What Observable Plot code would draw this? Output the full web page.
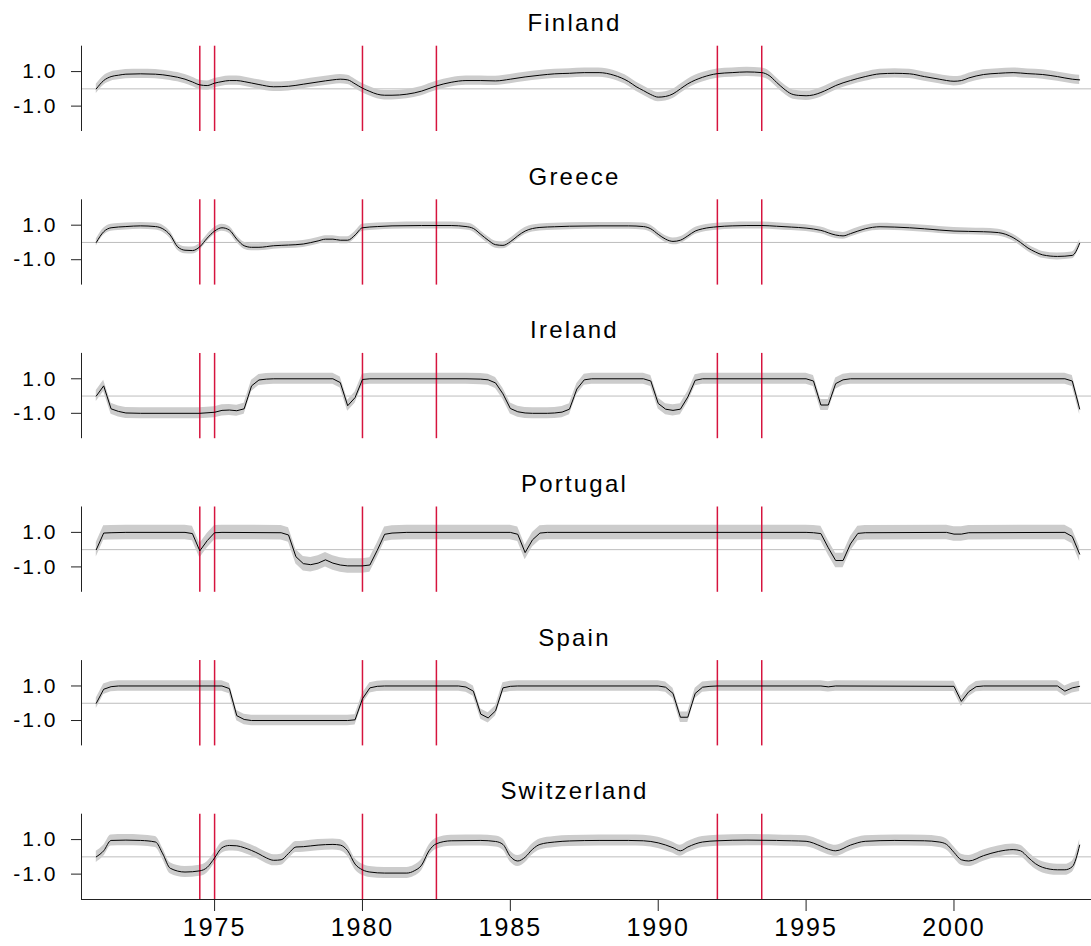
<!DOCTYPE html>
<html>
<head>
<meta charset="utf-8">
<script src="https://cdn.jsdelivr.net/npm/d3@7"></script>
<script src="https://cdn.jsdelivr.net/npm/@observablehq/plot@0.6"></script>
<style>
  html, body { margin: 0; padding: 0; background: #fff; }
  #chart svg { display: block; }
  #chart g[aria-label="text"] text { letter-spacing: 2.2px; }
  #chart g[aria-label="y-axis tick label"] { font-size: 21px; letter-spacing: 2px; }
  #chart g[aria-label="x-axis tick label"] { font-size: 25px; letter-spacing: 2px; }
</style>
</head>
<body>
<div id="chart"></div>
<script>
// ---- data ----
const countries = ["Finland", "Greece", "Ireland", "Portugal", "Spain", "Switzerland"];
const smoothCountries = ["Finland", "Greece", "Switzerland"];

const finland = [[1971,0],[1971.25,0.48],[1971.5,0.71],[1971.75,0.79],[1972,0.85],[1972.5,0.87],[1973,0.85],[1973.5,0.75],[1974,0.56],[1974.25,0.40],[1974.5,0.23],[1974.75,0.19],[1975,0.33],[1975.25,0.42],[1975.5,0.48],[1975.75,0.48],[1976,0.42],[1976.5,0.25],[1977,0.12],[1977.5,0.15],[1978,0.27],[1978.5,0.40],[1979,0.52],[1979.25,0.56],[1979.5,0.52],[1979.75,0.29],[1980,0.04],[1980.25,-0.15],[1980.5,-0.31],[1980.75,-0.37],[1981,-0.37],[1981.5,-0.31],[1982,-0.13],[1982.5,0.17],[1983,0.38],[1983.5,0.48],[1984,0.48],[1984.5,0.46],[1985,0.56],[1985.5,0.69],[1986,0.79],[1986.5,0.87],[1987,0.90],[1987.5,0.94],[1988,0.94],[1988.5,0.79],[1989,0.42],[1989.25,0.13],[1989.5,-0.10],[1989.75,-0.33],[1990,-0.48],[1990.25,-0.44],[1990.5,-0.29],[1990.75,0],[1991,0.29],[1991.5,0.67],[1992,0.88],[1992.5,0.94],[1993,0.98],[1993.5,0.94],[1993.75,0.77],[1994,0.38],[1994.25,0],[1994.5,-0.29],[1994.75,-0.38],[1995,-0.40],[1995.25,-0.35],[1995.5,-0.21],[1995.75,-0.02],[1996,0.19],[1996.5,0.48],[1997,0.71],[1997.5,0.87],[1998,0.90],[1998.5,0.87],[1999,0.71],[1999.5,0.56],[2000,0.44],[2000.25,0.48],[2000.5,0.63],[2001,0.83],[2001.5,0.90],[2002,0.94],[2002.5,0.88],[2003,0.83],[2003.5,0.71],[2004,0.56],[2004.25,0.52]];

const greece = [[1971,0],[1971.25,0.62],[1971.5,0.85],[1972,0.92],[1972.5,0.96],[1973,0.92],[1973.25,0.79],[1973.5,0.43],[1973.75,-0.25],[1974,-0.45],[1974.25,-0.47],[1974.5,-0.25],[1974.75,0.25],[1975,0.66],[1975.25,0.85],[1975.5,0.72],[1975.75,0.19],[1976,-0.19],[1976.25,-0.28],[1976.5,-0.28],[1977,-0.19],[1977.5,-0.15],[1978,-0.09],[1978.5,0.09],[1978.75,0.19],[1979,0.19],[1979.25,0.13],[1979.5,0.13],[1979.75,0.43],[1980,0.85],[1980.5,0.92],[1981,0.96],[1982,0.98],[1983,0.98],[1983.5,0.92],[1983.75,0.81],[1984,0.47],[1984.25,0.13],[1984.5,-0.13],[1984.75,-0.17],[1985,0.04],[1985.25,0.38],[1985.5,0.66],[1986,0.87],[1986.5,0.91],[1987,0.94],[1988,0.96],[1989,0.96],[1989.5,0.92],[1989.75,0.79],[1990,0.47],[1990.25,0.19],[1990.5,0.06],[1990.75,0.13],[1991,0.38],[1991.25,0.66],[1991.5,0.79],[1992,0.91],[1992.5,0.96],[1993,0.98],[1993.5,0.98],[1994,0.94],[1994.5,0.89],[1995,0.83],[1995.5,0.70],[1996,0.43],[1996.25,0.38],[1996.5,0.51],[1997,0.79],[1997.5,0.91],[1998,0.89],[1998.5,0.85],[1999,0.79],[1999.5,0.72],[2000,0.66],[2000.5,0.64],[2001,0.62],[2001.5,0.57],[2002,0.28],[2002.25,0],[2002.5,-0.32],[2002.75,-0.55],[2003,-0.72],[2003.5,-0.81],[2004,-0.75],[2004.25,-0.05]];

const ireland = [[1971,0],[1971.25,0.59],[1971.5,-0.74],[1971.75,-0.89],[1972,-0.98],[1972.5,-1.0],[1974.5,-1.0],[1975,-0.94],[1975.25,-0.83],[1975.5,-0.81],[1975.75,-0.85],[1976,-0.74],[1976.25,0.59],[1976.5,0.93],[1976.75,0.98],[1977,1.0],[1979,1.0],[1979.25,0.78],[1979.5,-0.56],[1979.75,-0.09],[1980,0.96],[1980.25,1.0],[1983.5,1.0],[1984,0.98],[1984.25,0.94],[1984.5,0.76],[1984.75,0.13],[1985,-0.72],[1985.25,-0.91],[1985.5,-0.98],[1985.75,-1.0],[1986.25,-1.0],[1986.5,-0.98],[1986.75,-0.93],[1987,-0.76],[1987.25,0.41],[1987.5,0.94],[1987.75,1.0],[1989.5,1.0],[1989.75,0.87],[1990,-0.43],[1990.25,-0.76],[1990.5,-0.83],[1990.75,-0.76],[1991,-0.06],[1991.25,0.91],[1991.5,1.0],[1995,1.0],[1995.25,0.87],[1995.5,-0.52],[1995.75,-0.52],[1996,0.72],[1996.25,0.94],[1996.5,1.0],[2003.75,1.0],[2004,0.87],[2004.25,-0.75]];

const portugal = [[1971,0],[1971.25,0.96],[1971.5,0.98],[1972,1.0],[1974,1.0],[1974.25,0.93],[1974.5,-0.07],[1974.75,0.52],[1975,0.98],[1975.25,1.0],[1977.25,0.98],[1977.5,0.85],[1977.75,-0.41],[1978,-0.81],[1978.25,-0.87],[1978.5,-0.78],[1978.75,-0.59],[1979,-0.78],[1979.25,-0.89],[1979.5,-0.94],[1980,-0.94],[1980.25,-0.89],[1980.5,-0.04],[1980.75,0.89],[1981,0.96],[1981.5,1.0],[1985,1.0],[1985.25,0.89],[1985.5,-0.17],[1985.75,0.57],[1986,0.96],[1986.25,1.0],[1995,1.0],[1995.25,0.98],[1995.5,0.93],[1995.75,0.11],[1996,-0.63],[1996.25,-0.63],[1996.5,0.33],[1996.75,0.94],[1997,0.98],[1999.75,1.0],[2000,0.90],[2000.25,0.90],[2000.5,0.98],[2003.75,1.0],[2004,0.76],[2004.25,-0.26]];

const spain = [[1971,0],[1971.25,0.81],[1971.5,0.96],[1971.75,1.0],[1975.25,1.0],[1975.5,0.85],[1975.75,-0.72],[1976,-0.94],[1976.25,-1.0],[1979.5,-1.0],[1979.75,-0.96],[1980,0.26],[1980.25,0.89],[1980.5,0.98],[1980.75,1.0],[1983.25,1.0],[1983.5,0.94],[1983.75,0.70],[1984,-0.63],[1984.25,-0.85],[1984.5,-0.44],[1984.75,0.89],[1985,0.98],[1985.25,1.0],[1990,1.0],[1990.25,0.93],[1990.5,0.57],[1990.75,-0.81],[1991,-0.81],[1991.25,0.57],[1991.5,0.93],[1991.75,0.98],[1992,1.0],[1995.5,1.0],[1995.75,0.95],[1996,1.0],[2000,0.98],[2000.25,0.11],[2000.5,0.67],[2000.75,0.96],[2001,1.0],[2003.5,1.0],[2003.75,0.70],[2004,0.89],[2004.25,0.98]];

const switzerland = [[1971,0],[1971.25,0.35],[1971.5,0.95],[1972,0.97],[1972.5,0.95],[1973,0.86],[1973.25,0.17],[1973.5,-0.66],[1974,-0.88],[1974.5,-0.81],[1974.75,-0.61],[1975,-0.06],[1975.25,0.53],[1975.5,0.66],[1975.75,0.64],[1976,0.53],[1976.5,0.17],[1976.75,-0.06],[1977,-0.20],[1977.25,-0.17],[1977.5,0.20],[1977.75,0.57],[1978,0.59],[1978.5,0.68],[1979,0.72],[1979.25,0.68],[1979.5,0.35],[1979.75,-0.42],[1980,-0.75],[1980.25,-0.88],[1980.75,-0.94],[1981.5,-0.94],[1981.75,-0.81],[1982,-0.48],[1982.25,0.35],[1982.5,0.76],[1983,0.93],[1984,0.95],[1984.5,0.89],[1984.75,0.72],[1985,0.02],[1985.25,-0.24],[1985.5,-0.02],[1985.75,0.44],[1986,0.72],[1986.5,0.86],[1987,0.92],[1988,0.95],[1989,0.95],[1989.5,0.93],[1990,0.81],[1990.5,0.53],[1990.75,0.35],[1991,0.57],[1991.5,0.86],[1992,0.93],[1993,0.97],[1994,0.95],[1994.5,0.93],[1995,0.90],[1995.5,0.62],[1995.75,0.44],[1996,0.35],[1996.5,0.68],[1997,0.90],[1998,0.95],[1999,0.93],[1999.5,0.86],[1999.75,0.72],[2000,0.26],[2000.25,-0.17],[2000.5,-0.24],[2001,0.07],[2001.5,0.31],[2002,0.42],[2002.25,0.35],[2002.5,-0.02],[2002.75,-0.39],[2003,-0.61],[2003.5,-0.75],[2003.75,-0.75],[2004,-0.57],[2004.25,0.68]];

// half-width of the grey confidence band, per country (same order as countries)
const bandHalfWidth = [0.27, 0.2, 0.32, 0.42, 0.3, 0.32];

const eventYears = [1974.5, 1975, 1980, 1982.5, 1992, 1993.5];
const xTicks = [1975, 1980, 1985, 1990, 1995, 2000];
const yTicks = [1, -1];
const xAxisRange = [1970.5, 2004.65];   // extent of the plotted time axis
const yAxisRange = [-2.47, 2.47];       // extent of each panel's value axis

// ---- build table ----
const seriesByCountry = [finland, greece, ireland, portugal, spain, switzerland];
const rows = [];
countries.forEach((c, i) => {
  for (const [t, v] of seriesByCountry[i]) {
    rows.push({country: c, t, v, lo: v - bandHalfWidth[i], hi: v + bandHalfWidth[i]});
  }
});
const smoothRows = rows.filter(d => smoothCountries.includes(d.country));
const sharpRows = rows.filter(d => !smoothCountries.includes(d.country));
const lastCountry = countries[countries.length - 1];

// ---- layout ----
const W = 1091, H = 946;
const axisLeftPx = 81;                 // where the y-axis line sits
const yTickLen = 10, xTickLen = 12;    // tick lengths in px
const mTop = 45.7, step = 153.6, panelH = 85.3;
// the frame is enlarged so that tick marks lie inside it
const mLeft = axisLeftPx - yTickLen;
const pxPerYear = (W - axisLeftPx) / (xAxisRange[1] - xAxisRange[0]);
const pxPerUnit = panelH / (yAxisRange[1] - yAxisRange[0]);
const xScaleDomain = [xAxisRange[0] - yTickLen / pxPerYear, xAxisRange[1]];
const yScaleDomain = [yAxisRange[0] - xTickLen / pxPerUnit, yAxisRange[1]];
const bandH = panelH + xTickLen;
const mBottom = H - (mTop + 5 * step + bandH);

const chart = Plot.plot({
  width: W,
  height: H,
  marginLeft: mLeft,
  marginRight: 0,
  marginTop: mTop,
  marginBottom: mBottom,
  style: {fontFamily: "'Liberation Sans', Arial, Helvetica, sans-serif", color: "#000", background: "#fff"},
  x: {domain: xScaleDomain, ticks: xTicks, tickFormat: d => String(d), tickSize: 0, tickPadding: 7, label: null},
  y: {domain: yScaleDomain, ticks: yTicks, tickFormat: d => d.toFixed(1), tickSize: 0, tickPadding: 14, label: null},
  fy: {domain: countries, axis: null, paddingInner: 1 - bandH / step, paddingOuter: 0, round: false},
  marks: [
    Plot.ruleY([0], {x1: xAxisRange[0], x2: xAxisRange[1], stroke: "#bdbdbd", strokeWidth: 1}),
    Plot.areaY(smoothRows, {x: "t", y1: "lo", y2: "hi", fy: "country", fill: "#cccccc", curve: "monotone-x"}),
    Plot.areaY(sharpRows, {x: "t", y1: "lo", y2: "hi", fy: "country", fill: "#cccccc", curve: "linear"}),
    Plot.ruleX(eventYears, {y1: yAxisRange[0], y2: yAxisRange[1], stroke: "#d6143e", strokeWidth: 1.5}),
    Plot.lineY(smoothRows, {x: "t", y: "v", fy: "country", stroke: "#000", strokeWidth: 1, curve: "monotone-x"}),
    Plot.lineY(sharpRows, {x: "t", y: "v", fy: "country", stroke: "#000", strokeWidth: 1, curve: "linear"}),
    // y-axis line in every panel, x-axis line under the last panel
    Plot.ruleX([xAxisRange[0]], {y1: yAxisRange[0], y2: yAxisRange[1], stroke: "#222", strokeWidth: 1}),
    Plot.ruleY([yAxisRange[0]], {fy: () => lastCountry, x1: xAxisRange[0], x2: xAxisRange[1], stroke: "#222", strokeWidth: 1}),
    // tick marks
    Plot.ruleY(yTicks, {y: d => d, x1: xScaleDomain[0], x2: xAxisRange[0], stroke: "#222", strokeWidth: 1}),
    Plot.ruleX(xTicks, {x: d => d, fy: () => lastCountry, y1: yScaleDomain[0], y2: yAxisRange[0], stroke: "#222", strokeWidth: 1}),
    Plot.text(countries, {fy: d => d, text: d => d, frameAnchor: "top", lineAnchor: "bottom", dy: -15, dx: -7, fontSize: 24, fill: "#000"})
  ]
});
document.getElementById("chart").appendChild(chart);
</script>
</body>
</html>
